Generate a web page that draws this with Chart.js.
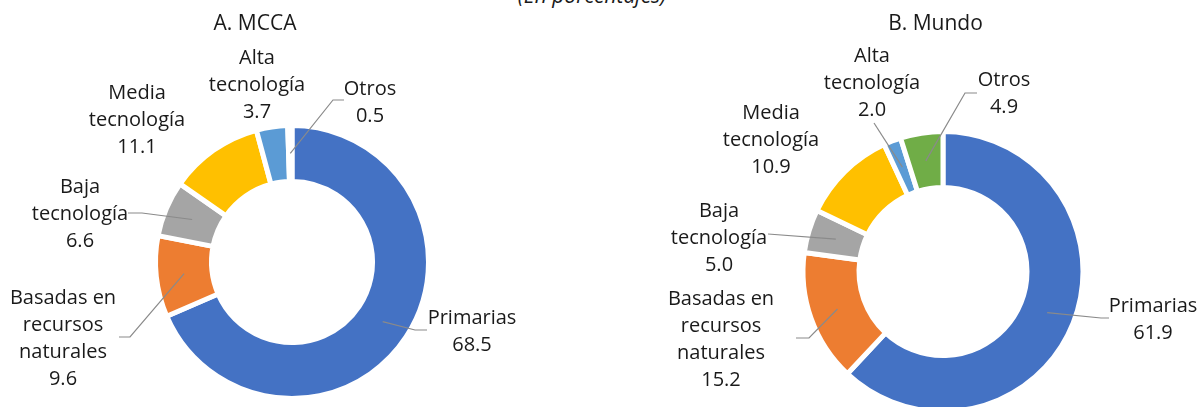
<!DOCTYPE html>
<html lang="es">
<head>
<meta charset="utf-8">
<title>Estructura de las exportaciones por intensidad tecnológica</title>
<script src="https://cdn.jsdelivr.net/npm/chart.js@4.4.1/dist/chart.umd.min.js"></script>
<style>
  html, body { margin: 0; padding: 0; background: #fff; }
  body { width: 1199px; height: 407px; overflow: hidden; position: relative; font-family: "Open Sans", sans-serif; }
  .subtitulo { position: absolute; left: 0; width: 1184px; top: -18px; line-height: 27px; text-align: center; font-style: italic; font-size: 21px; color: #1a1a1a; }
  .panel { position: absolute; top: 0; width: 600px; }
  #panelA { left: 0; height: 407px; }
  #panelB { left: 599px; height: 420px; }
</style>
</head>
<body>
<div class="subtitulo">(En porcentajes)</div>
<div class="panel" id="panelA"><canvas id="graficoMCCA"></canvas></div>
<div class="panel" id="panelB"><canvas id="graficoMundo"></canvas></div>

<script>
// ==========================================================
// DATOS
// ==========================================================
const categorias = [
    ['Primarias'],
    ['Basadas en', 'recursos', 'naturales'],
    ['Baja', 'tecnología'],
    ['Media', 'tecnología'],
    ['Alta', 'tecnología'],
    ['Otros']
];
const valoresMCCA = [68.5, 9.6, 6.6, 11.1, 3.7, 0.5];
const valoresMundo = [61.9, 15.2, 5.0, 10.9, 2.0, 4.9];
const titulos = ['A. MCCA', 'B. Mundo'];

const colores = ['#4472C4', '#ED7D31', '#A5A5A5', '#FFC000', '#5B9BD5', '#70AD47'];
const colorTexto = '#1a1a1a';
const colorGuia = '#8a8a8a';

// ==========================================================
// UBICACIÓN DE ETIQUETAS (px respecto al centro de cada dona)
// guia = punto final de la línea guía junto a la etiqueta, codo = tramo horizontal
// ==========================================================
const etiquetasA = [
    { dx: 180, dy: 70, guia: { x: 135, y: 68, codo: -12 } },
    { dx: -229, dy: 77, guia: { x: -173, y: 75, codo: 11 } },
    { dx: -212, dy: -48, guia: { x: -164, y: -49, codo: 14 } },
    { dx: -155, dy: -142 },
    { dx: -35, dy: -176.5 },
    { dx: 78, dy: -159, guia: { x: 52, y: -162, codo: -11 } }
];
const etiquetasB = [
    { dx: 210, dy: 48.5, guia: { x: 166, y: 46.5, codo: -8 } },
    { dx: -222, dy: 68.5, guia: { x: -147, y: 66.5, codo: 13 } },
    { dx: -224, dy: -33.5, guia: { x: -175, y: -37.5, codo: 0 } },
    { dx: -172, dy: -131.5 },
    { dx: -71, dy: -188.5, guia: { x: -69, y: -148.5, codo: 0 } },
    { dx: 61, dy: -178, guia: { x: 34, y: -178.5, codo: -12 } }
];

// Plugin que dibuja el título del panel, las etiquetas y sus líneas guía
function crearPluginEtiquetas(titulo, tituloPos, etiquetas) {
    return {
        id: 'etiquetas',
        afterDatasetsDraw(chart) {
            const ctx = chart.ctx;
            const arcos = chart.getDatasetMeta(0).data;
            const valores = chart.data.datasets[0].data;
            const cx = arcos[0].x;
            const cy = arcos[0].y;
            const altoLinea = 27;

            ctx.save();
            ctx.fillStyle = colorTexto;
            ctx.textAlign = 'center';
            ctx.textBaseline = 'middle';
            ctx.font = '21px "Open Sans"';
            ctx.fillText(titulo, cx + tituloPos.dx, cy + tituloPos.dy);

            ctx.font = '20px "Open Sans"';
            arcos.forEach((arco, i) => {
                const et = etiquetas[i];
                if (et.guia) {
                    const p = arco.getCenterPoint();
                    const fin = { x: cx + et.guia.x, y: cy + et.guia.y };
                    ctx.beginPath();
                    ctx.moveTo(p.x, p.y);
                    ctx.lineTo(fin.x + et.guia.codo, fin.y);
                    ctx.lineTo(fin.x, fin.y);
                    ctx.strokeStyle = colorGuia;
                    ctx.lineWidth = 1.2;
                    ctx.stroke();
                }
                const lineas = chart.data.labels[i].concat(valores[i].toFixed(1));
                const y0 = cy + et.dy - (lineas.length - 1) * altoLinea / 2;
                lineas.forEach((txt, j) => {
                    ctx.fillText(txt, cx + et.dx, y0 + j * altoLinea);
                });
            });
            ctx.restore();
        }
    };
}

function crearDona(idCanvas, valores, titulo, tituloPos, etiquetas, geom) {
    return new Chart(document.getElementById(idCanvas), {
        type: 'doughnut',
        data: {
            labels: categorias,
            datasets: [{
                data: valores,
                backgroundColor: colores,
                borderColor: '#ffffff',
                borderWidth: 5,
                hoverOffset: 0
            }]
        },
        options: {
            responsive: true,
            maintainAspectRatio: false,
            animation: false,
            events: [],
            radius: geom.radio,
            cutout: geom.corte,
            layout: { padding: geom.padding },
            plugins: {
                legend: { display: false },
                tooltip: { enabled: false }
            }
        },
        plugins: [crearPluginEtiquetas(titulo, tituloPos, etiquetas)]
    });
}

crearDona('graficoMCCA', valoresMCCA, titulos[0], { dx: -37, dy: -238 }, etiquetasA, {
    radio: 136.5,
    corte: '59%',
    padding: { left: 152, right: 168, top: 122, bottom: 5 }
});

crearDona('graficoMundo', valoresMundo, titulos[1], { dx: -7.5, dy: -247.5 }, etiquetasB, {
    radio: 140,
    corte: '60%',
    padding: { left: 204, right: 116, top: 131.5, bottom: 8.5 }
});
</script>
</body>
</html>
